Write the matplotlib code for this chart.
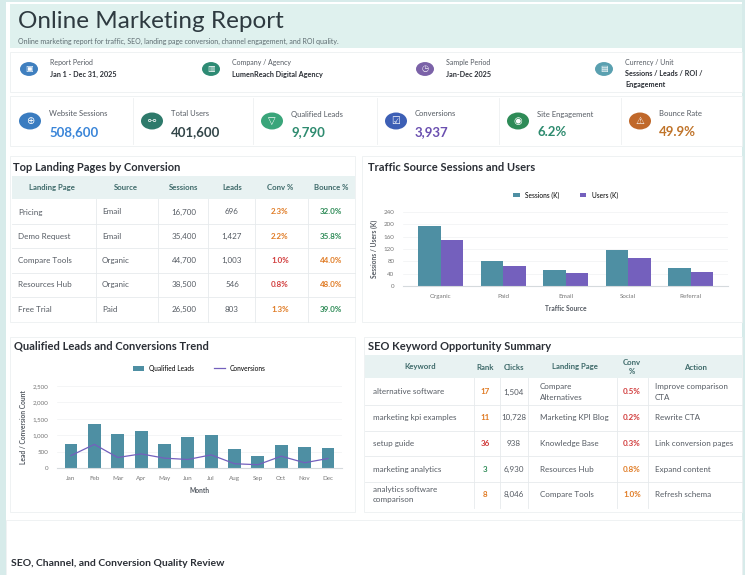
import matplotlib
matplotlib.use("Agg")
import matplotlib.pyplot as plt
from matplotlib.patches import Rectangle, Circle
import numpy as np

plt.rcParams["font.family"] = ["Lato", "DejaVu Sans"]

W, H = 745, 575

# ---- data ----
info_labels = ["Report Period", "Company / Agency", "Sample Period", "Currency / Unit"]
info_values = ["Jan 1 - Dec 31, 2025", "LumenReach Digital Agency", "Jan-Dec 2025",
               "Sessions / Leads / ROI /\nEngagement"]

kpi_labels = ["Website Sessions", "Total Users", "Qualified Leads", "Conversions",
              "Site Engagement", "Bounce Rate"]
kpi_values = ["508,600", "401,600", "9,790", "3,937", "6.2%", "49.9%"]

lp_header = ["Landing Page", "Source", "Sessions", "Leads", "Conv %", "Bounce %"]
lp_pages = ["Pricing", "Demo Request", "Compare Tools", "Resources Hub", "Free Trial"]
lp_source = ["Email", "Email", "Organic", "Organic", "Paid"]
lp_sessions = ["16,700", "35,400", "44,700", "38,500", "26,500"]
lp_leads = ["696", "1,427", "1,003", "546", "803"]
lp_conv = ["2.3%", "2.2%", "1.0%", "0.8%", "1.3%"]
lp_bounce = ["32.0%", "35.8%", "44.0%", "48.0%", "39.0%"]

sources = ["Organic", "Paid", "Email", "Social", "Referral"]
sessions_k = [193, 80, 53, 116, 58]
users_k = [150, 64, 41, 91, 47]

months = ["Jan", "Feb", "Mar", "Apr", "May", "Jun", "Jul", "Aug", "Sep", "Oct", "Nov", "Dec"]
leads = [720, 1330, 1040, 1130, 730, 950, 1000, 570, 380, 700, 650, 620]
conversions = [380, 720, 320, 430, 300, 260, 400, 130, 100, 360, 160, 290]

kw_header = ["Keyword", "Rank", "Clicks", "Landing Page", "Conv\n%", "Action"]
kw_keyword = ["alternative software", "marketing kpi examples", "setup guide",
              "marketing analytics", "analytics software\ncomparison"]
kw_rank = ["17", "11", "36", "3", "8"]
kw_clicks = ["1,504", "10,728", "938", "6,930", "8,046"]
kw_page = ["Compare\nAlternatives", "Marketing KPI Blog", "Knowledge Base",
           "Resources Hub", "Compare Tools"]
kw_conv = ["0.5%", "0.2%", "0.3%", "0.8%", "1.0%"]
kw_action = ["Improve comparison\nCTA", "Rewrite CTA", "Link conversion pages",
             "Expand content", "Refresh schema"]

ORANGE, RED, GREEN = "#e07b24", "#d13b3b", "#2e8b57"
TEAL, PURPLE = "#4e8fa3", "#7460bd"
DARK, GREY = "#2b2f36", "#555b63"


def pc(x, y):
    return x / W, 1 - y / H


fig = plt.figure(figsize=(W / 100, H / 100), dpi=100)
fig.patch.set_facecolor("#d7ebea")


def rect(x0, y0, x1, y1, fc, ec="none", lw=0.6):
    fig.patches.append(Rectangle(pc(x0, y1), (x1 - x0) / W, (y1 - y0) / H,
                                 transform=fig.transFigure, fc=fc, ec=ec, lw=lw,
                                 zorder=-5))


def line(x0, y0, x1, y1, c="#e6eaec", lw=0.6):
    fig.add_artist(plt.Line2D([x0 / W, x1 / W], [1 - y0 / H, 1 - y1 / H],
                              transform=fig.transFigure, color=c, lw=lw))


def txt(x, y, s, size=5.8, color=GREY, ha="left", weight="normal", **kw):
    fig.text(*pc(x, y), s, fontsize=size, color=color, ha=ha, va="center",
             weight=weight, **kw)


def icon(x, y, r, c, glyph):
    fig.patches.append(Circle(pc(x, y), r / W, transform=fig.transFigure, fc=c, ec="none"))
    fig.text(*pc(x, y), glyph, fontsize=r * 0.65, color="white", ha="center", va="center",
             family="DejaVu Sans")


# page
rect(6, 2, 742, 575, "white")
rect(10, 4, 742, 48, "#dff1ee")
txt(18, 22, "Online Marketing Report", size=17.5, color="#2e3a40")
txt(18, 41, "Online marketing report for traffic, SEO, landing page conversion, channel "
    "engagement, and ROI quality.", size=5, color="#5d6b70")

# info row
rect(10, 52, 742, 92, "white", ec="#edf0f1")
info_x = [29, 211, 425, 604]
info_c = ["#3f7fbf", "#2e8b74", "#7b62a8", "#5aa0b0"]
info_g = ["▣", "▥", "◷", "▤"]
for i in range(4):
    icon(info_x[i], 69, 9, info_c[i], info_g[i])
    txt(info_x[i] + 21, 62, info_labels[i], size=5)
    txt(info_x[i] + 21, 74 if i < 3 else 79, info_values[i], size=5.2, color=DARK,
        weight="bold", linespacing=1.6)

# KPI row
rect(10, 96, 742, 146, "white", ec="#edf0f1")
kpi_x = [30, 152, 272, 396, 518, 640]
kpi_c = ["#3a7cc0", "#2e7a6b", "#3aa57a", "#3d5fb5", "#2e8b57", "#c0682a"]
kpi_vc = ["#3a85d8", "#34474a", "#2e8b6f", "#6a4fb0", "#2e8b6f", "#c0742a"]
kpi_g = ["⊕", "⚯", "▽", "☑", "◉", "⚠"]
for i in range(6):
    icon(kpi_x[i], 121, 11, kpi_c[i], kpi_g[i])
    txt(kpi_x[i] + 19, 114, kpi_labels[i], size=5.5)
    txt(kpi_x[i] + 19, 132, kpi_values[i], size=9.5, color=kpi_vc[i], weight="bold")
    if i:
        line(kpi_x[i] - 19, 98, kpi_x[i] - 19, 144, c="#eef0f1")

# ---- landing pages table ----
rect(10, 156, 355, 322, "white", ec="#edf0f1")
txt(13, 167, "Top Landing Pages by Conversion", size=8, color=DARK, weight="bold")
rect(12, 176, 355, 199, "#e8f2f2")
hx = [52, 126, 184, 232, 280, 331]
for s, x in zip(lp_header, hx):
    txt(x, 188, s, size=5.6, color="#3e6a6a", ha="center", weight="bold")
for x in [96, 158, 208, 255, 308]:
    line(x, 199, x, 322)


def cconv(v):
    return RED if float(v.rstrip("%")) <= 1.0 else ORANGE


def cbounce(v):
    return GREEN if float(v.rstrip("%")) < 40 else ORANGE


for r in range(5):
    y = 212 + r * 24.3
    if r:
        line(12, y - 12.2, 355, y - 12.2)
    txt(18, y, lp_pages[r])
    txt(102, y, lp_source[r])
    txt(184, y, lp_sessions[r], ha="center")
    txt(232, y, lp_leads[r], ha="center")
    txt(280, y, lp_conv[r], ha="center", color=cconv(lp_conv[r]), weight="bold")
    txt(331, y, lp_bounce[r], ha="center", color=cbounce(lp_bounce[r]), weight="bold")

# ---- traffic source chart ----
rect(362, 156, 742, 322, "white", ec="#edf0f1")
txt(368, 167, "Traffic Source Sessions and Users", size=8, color=DARK, weight="bold")
ax = fig.add_axes([403 / W, 1 - 286 / H, 325 / W, 74 / H])
x = np.arange(len(sources))
ax.bar(x - 0.18, sessions_k, 0.36, color=TEAL, label="Sessions (K)")
ax.bar(x + 0.18, users_k, 0.36, color=PURPLE, label="Users (K)")
ax.set_ylim(0, 240)
ax.set_yticks(range(0, 241, 40))
ax.set_xticks(x, sources)
ax.set_xlim(-0.6, 4.6)
ax.set_xlabel("Traffic Source", fontsize=4.8, color=GREY, weight="bold")
ax.set_ylabel("Sessions / Users (K)", fontsize=4.8, color=GREY, weight="bold")
ax.legend(loc="lower center", bbox_to_anchor=(0.5, 1.1), ncol=2, frameon=False,
          fontsize=4.8, handlelength=1, columnspacing=3)

# ---- trend chart ----
rect(10, 337, 355, 512, "white", ec="#edf0f1")
txt(14, 346, "Qualified Leads and Conversions Trend", size=8, color=DARK, weight="bold")
ax2 = fig.add_axes([57 / W, 1 - 468 / H, 285 / W, 82 / H])
xm = np.arange(len(months))
b = ax2.bar(xm, leads, 0.55, color=TEAL, label="Qualified Leads")
(ln,) = ax2.plot(xm, conversions, color=PURPLE, lw=0.9, label="Conversions")
ax2.set_ylim(0, 2500)
ax2.set_yticks(range(0, 2501, 500), [f"{v:,}" for v in range(0, 2501, 500)])
ax2.set_xticks(xm, months)
ax2.set_xlim(-0.6, 11.6)
ax2.set_xlabel("Month", fontsize=4.8, color=GREY, weight="bold")
ax2.set_ylabel("Lead / Conversion Count", fontsize=4.8, color=GREY, weight="bold")
ax2.legend(handles=[b, ln], loc="lower center", bbox_to_anchor=(0.5, 1.1), ncol=2,
           frameon=False, fontsize=4.8, handlelength=1.6, columnspacing=3)

for a in (ax, ax2):
    a.set_facecolor("white")
    for sp in ["top", "right", "left"]:
        a.spines[sp].set_visible(False)
    a.spines["bottom"].set_color("#d5dadd")
    a.tick_params(length=0, labelsize=4.5, colors="#777", pad=6)
    a.grid(axis="y", color="#f0f2f3", lw=0.5)
    a.set_axisbelow(True)
    a.xaxis.labelpad = 4

# ---- keyword table ----
rect(364, 337, 742, 512, "white", ec="#edf0f1")
txt(368, 346, "SEO Keyword Opportunity Summary", size=8, color=DARK, weight="bold")
rect(365, 355, 742, 378, "#e8f2f2")
khx = [420, 485, 514, 575, 632, 695]
for s, xx in zip(kw_header, khx):
    txt(xx, 367, s, size=5.6, color="#3e6a6a", ha="center", weight="bold",
        linespacing=1.2)
for xx in [474, 500, 528, 617, 648]:
    line(xx, 378, xx, 508)


def crank(v):
    v = int(v)
    return GREEN if v <= 3 else (RED if v > 20 else ORANGE)


def ckw(v):
    return ORANGE if float(v.rstrip("%")) >= 0.8 else RED


for r in range(5):
    y = 392 + r * 25.7
    if r:
        line(365, y - 12.8, 742, y - 12.8)
    txt(373, y, kw_keyword[r], linespacing=1.5)
    txt(485, y, kw_rank[r], ha="center", color=crank(kw_rank[r]), weight="bold")
    txt(514, y, kw_clicks[r], ha="center")
    txt(540, y, kw_page[r], linespacing=1.5)
    txt(632, y, kw_conv[r], ha="center", color=ckw(kw_conv[r]), weight="bold")
    txt(655, y, kw_action[r], linespacing=1.5)

# ---- bottom section ----
rect(6, 520, 742, 575, "white", ec="#edf0f1")
txt(11, 563, "SEO, Channel, and Conversion Quality Review", size=7.5, color=DARK,
    weight="bold")

fig.savefig("out.png", dpi=100, facecolor=fig.get_facecolor())
